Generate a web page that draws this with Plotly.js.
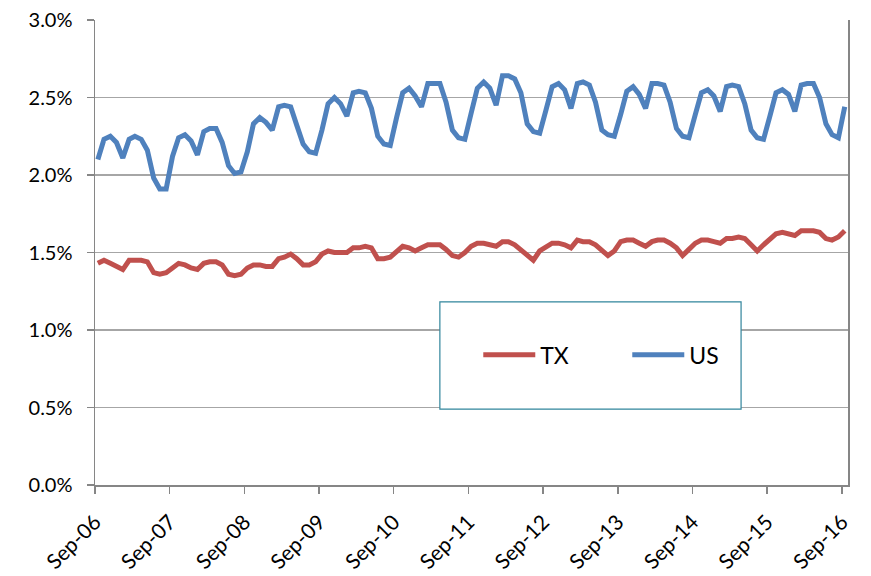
<!DOCTYPE html>
<html>
<head>
<meta charset="utf-8">
<script src="https://cdn.plot.ly/plotly-3.0.1.min.js"></script>
<style>html,body{margin:0;padding:0;background:#fff;}#chart{width:871px;height:576px;}</style>
</head>
<body>
<div id="chart"></div>
<script>
// Monthly series, Sep-2006 .. Sep-2016 (percent)
const startYear = 2006, startMonth = 9;
const usValues = [
  2.10,2.23,2.25,2.21,2.11,2.23,2.25,2.23,2.16,1.98,1.91,1.91,
  2.12,2.24,2.26,2.22,2.13,2.28,2.30,2.30,2.21,2.06,2.01,2.02,
  2.15,2.33,2.37,2.34,2.29,2.44,2.45,2.44,2.32,2.20,2.15,2.14,
  2.29,2.46,2.50,2.46,2.38,2.53,2.54,2.53,2.43,2.25,2.20,2.19,
  2.37,2.53,2.56,2.51,2.44,2.59,2.59,2.59,2.47,2.29,2.24,2.23,
  2.40,2.56,2.60,2.56,2.45,2.64,2.64,2.62,2.53,2.33,2.28,2.27,
  2.42,2.57,2.59,2.55,2.43,2.59,2.60,2.58,2.47,2.29,2.26,2.25,
  2.39,2.54,2.57,2.52,2.43,2.59,2.59,2.58,2.47,2.30,2.25,2.24,
  2.39,2.53,2.55,2.51,2.41,2.57,2.58,2.57,2.46,2.29,2.24,2.23,
  2.38,2.53,2.55,2.52,2.41,2.58,2.59,2.59,2.50,2.33,2.26,2.24,
  2.44
];
const txValues = [
  1.43,1.45,1.43,1.41,1.39,1.45,1.45,1.45,1.44,1.37,1.36,1.37,
  1.40,1.43,1.42,1.40,1.39,1.43,1.44,1.44,1.42,1.36,1.35,1.36,
  1.40,1.42,1.42,1.41,1.41,1.46,1.47,1.49,1.46,1.42,1.42,1.44,
  1.49,1.51,1.50,1.50,1.50,1.53,1.53,1.54,1.53,1.46,1.46,1.47,
  1.51,1.54,1.53,1.51,1.53,1.55,1.55,1.55,1.52,1.48,1.47,1.50,
  1.54,1.56,1.56,1.55,1.54,1.57,1.57,1.55,1.52,1.49,1.45,1.51,
  1.54,1.56,1.56,1.55,1.53,1.58,1.57,1.57,1.55,1.51,1.48,1.51,
  1.57,1.58,1.58,1.56,1.54,1.57,1.58,1.58,1.56,1.53,1.48,1.52,
  1.56,1.58,1.58,1.57,1.56,1.59,1.59,1.60,1.59,1.55,1.51,1.55,
  1.59,1.62,1.63,1.62,1.61,1.64,1.64,1.64,1.63,1.59,1.58,1.60,
  1.64
];
const seriesNames = ['TX', 'US'];
const seriesColors = ['#C0504D', '#4F81BD'];

function monthDates(n) {
  const out = [];
  for (let i = 0; i < n; i++) {
    const m0 = startMonth - 1 + i;
    const y = startYear + Math.floor(m0 / 12);
    const m = (m0 % 12) + 1;
    out.push(y + '-' + String(m).padStart(2, '0') + '-15');
  }
  return out;
}
const dates = monthDates(usValues.length);

const font = 'Lato, "Open Sans", "DejaVu Sans", sans-serif';
const traces = [txValues, usValues].map((vals, k) => ({
  x: dates, y: vals, type: 'scatter', mode: 'lines', name: seriesNames[k],
  line: {color: seriesColors[k], width: 5, shape: 'linear'},
  hoverinfo: 'skip'
}));

const layout = {
  width: 871, height: 576,
  margin: {l: 95, r: 23, t: 20, b: 91},
  paper_bgcolor: '#ffffff', plot_bgcolor: '#ffffff',
  font: {family: font, size: 20, color: '#000000'},
  showlegend: true,
  legend: {
    orientation: 'h', x: 0.509, y: 0.28, xanchor: 'left', yanchor: 'middle',
    bgcolor: 'rgba(0,0,0,0)', borderwidth: 0, font: {family: font, size: 23, color: '#000'},
    entrywidth: 82, itemwidth: 52
  },
  xaxis: {
    type: 'date', range: ['2006-09-01', '2016-10-01'],
    tick0: '2006-09-01', dtick: 'M12', tickformat: '%b-%y', tickangle: -45,
    ticks: 'outside', ticklen: 7, tickcolor: '#868686', tickwidth: 1.5,
    ticklabelstandoff: 8,
    showgrid: false, showline: true, linecolor: '#868686', linewidth: 1.5,
    zeroline: false, tickfont: {family: font, size: 21, color: '#000'}
  },
  yaxis: {
    range: [0, 3], dtick: 0.5, tickformat: '.1f', ticksuffix: '%',
    ticks: 'outside', ticklen: 7, tickcolor: '#868686', tickwidth: 1.5,
    ticklabelstandoff: 10,
    showgrid: true, gridcolor: '#A6A6A6', gridwidth: 1.5,
    showline: true, linecolor: '#868686', linewidth: 1.5, mirror: true,
    zeroline: false, tickfont: {family: font, size: 20, color: '#000'}
  },
  shapes: [{
    type: 'rect', xref: 'paper', yref: 'paper',
    x0: 0.458, x1: 0.858, y0: 0.163, y1: 0.394,
    line: {color: '#31859C', width: 1.2}, fillcolor: '#ffffff', layer: 'above'
  }]
};

Plotly.newPlot('chart', traces, layout, {displayModeBar: false, staticPlot: true});
</script>
</body>
</html>
